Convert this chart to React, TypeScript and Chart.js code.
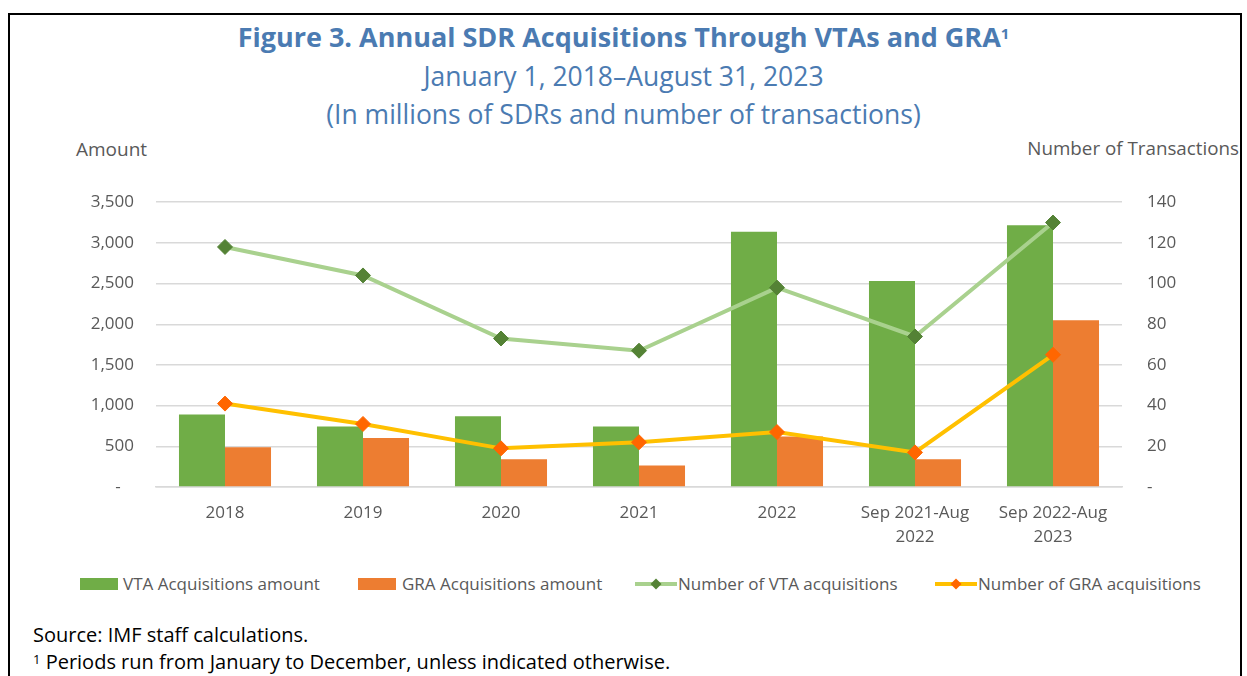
import React, { useEffect, useRef } from "react";
import { Chart, registerables } from "chart.js";

Chart.register(...registerables);

const categories: (string | string[])[] = [
  "2018",
  "2019",
  "2020",
  "2021",
  "2022",
  ["Sep 2021-Aug", "2022"],
  ["Sep 2022-Aug", "2023"],
];
const vtaAmount = [890, 744, 870, 744, 3138, 2533, 3216];
const graAmount = [488, 601, 341, 264, 622, 341, 2049];
const vtaCount = [118, 104, 73, 67, 98, 74, 130];
const graCount = [41, 31, 19, 22, 27, 17, 65];

const FONT = "'Open Sans', 'Noto Sans', sans-serif";
const GRAY = "#595959";
const BLUE = "#4B7BB2";

function fmt(v: number) {
  if (v === 0) return "-   ";
  return v.toLocaleString("en-US");
}

function LineIcon({ line, dot }: { line: string; dot: string }) {
  return (
    <svg width="44" height="14" style={{ display: "block" }}>
      <line x1="1" y1="7" x2="43" y2="7" stroke={line} strokeWidth="4" />
      <polygon points="22,1.5 27.5,7 22,12.5 16.5,7" fill={dot} />
    </svg>
  );
}

export default function App() {
  const ref = useRef<HTMLCanvasElement | null>(null);

  useEffect(() => {
    if (!ref.current) return;
    const chart = new Chart(ref.current, {
      type: "bar",
      data: {
        labels: categories as any,
        datasets: [
          {
            type: "line",
            label: "Number of VTA acquisitions",
            data: vtaCount,
            yAxisID: "y1",
            borderColor: "#A9D18E",
            borderWidth: 4,
            pointStyle: "rectRot",
            pointRadius: 7.5,
            pointBackgroundColor: "#548235",
            pointBorderColor: "#548235",
            pointBorderWidth: 1,
            order: 0,
          } as any,
          {
            type: "line",
            label: "Number of GRA acquisitions",
            data: graCount,
            yAxisID: "y1",
            borderColor: "#FFC000",
            borderWidth: 4,
            pointStyle: "rectRot",
            pointRadius: 7.5,
            pointBackgroundColor: "#FF6600",
            pointBorderColor: "#FF6600",
            pointBorderWidth: 1,
            order: 0,
          } as any,
          {
            type: "bar",
            label: "VTA Acquisitions amount",
            data: vtaAmount,
            yAxisID: "y",
            backgroundColor: "#70AD47",
            categoryPercentage: 0.667,
            barPercentage: 1.0,
            order: 1,
          },
          {
            type: "bar",
            label: "GRA Acquisitions amount",
            data: graAmount,
            yAxisID: "y",
            backgroundColor: "#ED7D31",
            categoryPercentage: 0.667,
            barPercentage: 1.0,
            order: 1,
          },
        ],
      },
      options: {
        animation: false,
        responsive: false,
        maintainAspectRatio: false,
        layout: { padding: { top: 7, left: 0, right: 0, bottom: 0 } },
        plugins: {
          legend: { display: false },
          tooltip: { enabled: false },
          title: { display: false },
        },
        scales: {
          x: {
            offset: true,
            grid: { display: false, drawTicks: false },
            border: { display: true, color: "#D9D9D9", width: 1.5 },
            ticks: {
              color: GRAY,
              font: { family: FONT, size: 17, lineHeight: 1.36 },
              padding: 15,
              maxRotation: 0,
              autoSkip: false,
            },
            afterFit: (s: any) => {
              s.height = 73;
            },
          },
          y: {
            position: "left",
            min: 0,
            max: 3500,
            ticks: {
              stepSize: 500,
              color: GRAY,
              font: { family: FONT, size: 17 },
              padding: 22,
              callback: (v: any) => fmt(Number(v)),
            },
            grid: { color: "#D9D9D9", lineWidth: 1.5, drawTicks: false },
            border: { display: false },
            afterFit: (s: any) => {
              s.width = 156;
            },
          },
          y1: {
            position: "right",
            min: 0,
            max: 140,
            ticks: {
              stepSize: 20,
              color: GRAY,
              font: { family: FONT, size: 17 },
              padding: 25,
              callback: (v: any) => (Number(v) === 0 ? "-" : String(v)),
            },
            grid: { drawOnChartArea: false, drawTicks: false },
            border: { display: false },
            afterFit: (s: any) => {
              s.width = 125;
            },
          },
        },
      } as any,
    });
    return () => chart.destroy();
  }, []);

  const legendText: React.CSSProperties = {
    fontFamily: FONT,
    fontSize: 17,
    color: GRAY,
    whiteSpace: "nowrap",
    lineHeight: "20px",
  };
  const item = (left: number): React.CSSProperties => ({
    position: "absolute",
    left,
    top: 574,
    display: "flex",
    alignItems: "center",
    height: 20,
  });

  return (
    <div
      style={{
        position: "fixed",
        left: 0,
        top: 0,
        width: 1247,
        height: 676,
        overflow: "hidden",
        background: "#fff",
        fontFamily: FONT,
      }}
    >
      <div
        style={{
          position: "absolute",
          left: 8,
          top: 13,
          width: 1230,
          height: 720,
          border: "2px solid #000",
        }}
      />
      <div
        style={{
          position: "absolute",
          left: 0,
          width: 1247,
          top: 17,
          textAlign: "center",
          color: BLUE,
          fontWeight: 700,
          fontSize: 27,
          lineHeight: "40px",
        }}
      >
        Figure 3. Annual SDR Acquisitions Through VTAs and GRA
        <sup style={{ fontSize: 15, verticalAlign: "top", position: "relative", top: -4 }}>1</sup>
      </div>
      <div
        style={{
          position: "absolute",
          left: 0,
          width: 1247,
          top: 58,
          textAlign: "center",
          color: BLUE,
          fontSize: 26.5,
          lineHeight: "36px",
        }}
      >
        January 1, 2018–August 31, 2023
      </div>
      <div
        style={{
          position: "absolute",
          left: 0,
          width: 1247,
          top: 96,
          textAlign: "center",
          color: BLUE,
          fontSize: 26.5,
          lineHeight: "36px",
        }}
      >
        (In millions of SDRs and number of transactions)
      </div>
      <div
        style={{
          position: "absolute",
          left: 76,
          top: 136,
          color: GRAY,
          fontSize: 19,
          lineHeight: "26px",
        }}
      >
        Amount
      </div>
      <div
        style={{
          position: "absolute",
          right: 8,
          top: 135,
          color: GRAY,
          fontSize: 18.8,
          lineHeight: "26px",
        }}
      >
        Number of Transactions
      </div>
      <canvas
        ref={ref}
        width={1247}
        height={393}
        style={{ position: "absolute", left: 0, top: 167, width: 1247, height: 393 }}
      />
      <div style={item(80)}>
        <div style={{ width: 38, height: 12, background: "#70AD47", marginRight: 5 }} />
        <span style={legendText}>VTA Acquisitions amount</span>
      </div>
      <div style={item(358)}>
        <div style={{ width: 38, height: 12, background: "#ED7D31", marginRight: 6 }} />
        <span style={legendText}>GRA Acquisitions amount</span>
      </div>
      <div style={item(634)}>
        <LineIcon line="#A9D18E" dot="#548235" />
        <span style={legendText}>Number of VTA acquisitions</span>
      </div>
      <div style={item(934)}>
        <LineIcon line="#FFC000" dot="#FF6600" />
        <span style={legendText}>Number of GRA acquisitions</span>
      </div>
      <div
        style={{
          position: "absolute",
          left: 33,
          top: 621,
          color: "#000",
          fontSize: 20,
          lineHeight: "28px",
        }}
      >
        Source: IMF staff calculations.
      </div>
      <div
        style={{
          position: "absolute",
          left: 33,
          top: 648,
          color: "#000",
          fontSize: 20,
          lineHeight: "28px",
          whiteSpace: "nowrap",
        }}
      >
        <sup style={{ fontSize: 13, verticalAlign: "top", position: "relative", top: -3 }}>1</sup> Periods
        run from January to December, unless indicated otherwise.
      </div>
    </div>
  );
}
